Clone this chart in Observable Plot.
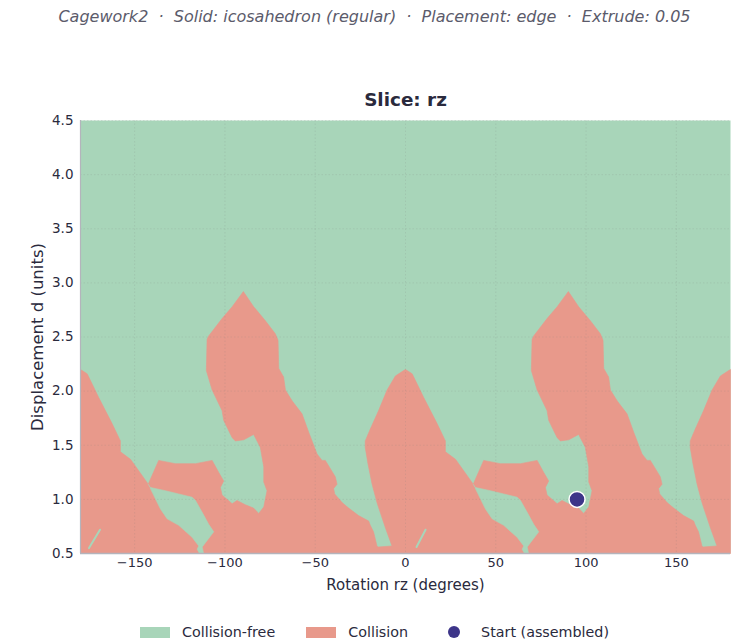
<!DOCTYPE html>
<html>
<head>
<meta charset="utf-8">
<script src="https://cdn.jsdelivr.net/npm/d3@7"></script>
<script src="https://cdn.jsdelivr.net/npm/@observablehq/plot@0.6"></script>
<style>
  html, body { margin: 0; padding: 0; background: #fff; overflow: hidden; }
  body { width: 749px; font-family: "DejaVu Sans", sans-serif; color: #2a2a3d; }
  #sub { height: 34px; line-height: 34px; text-align: center; font-style: italic; font-size: 16px; color: #5b5b6b; white-space: pre; }
  #chart svg { display: block; }
  #legend { display: flex; justify-content: center; align-items: center; margin-top: 22px; height: 20px; font-size: 14.3px; color: #2a2a3d; }
  .item { display: flex; align-items: center; margin-right: 31px; }
  .item:last-child { margin-right: 0; }
  .sw { width: 30px; height: 11px; margin-right: 12px; }
  .dotbox { width: 30px; height: 14px; margin-right: 12px; display: flex; justify-content: center; align-items: center; }
  .dot { width: 12px; height: 12px; border-radius: 50%; background: #3d3589; }
</style>
</head>
<body>
<div id="sub">Cagework2  ·  Solid: icosahedron (regular)  ·  Placement: edge  ·  Extrude: 0.05</div>
<div id="chart"></div>
<div id="legend"></div>
<script>
// ---------- data ----------
const xTicks = [-150, -100, -50, 0, 50, 100, 150];
const yTicks = [0.5, 1.0, 1.5, 2.0, 2.5, 3.0, 3.5, 4.0, 4.5];
const legendLabels = ["Collision-free", "Collision", "Start (assembled)"];

// Lower boundary of the collision-free region, rz in [-180, 0] : [rz, d]
const boundaryLeft = [
  [-180,2.20],[-176.3,2.16],[-169.9,1.94],[-162.5,1.70],[-157.9,1.54],[-157.9,1.44],[-152.3,1.37],[-145.0,1.20],[-142.5,1.14],
  [-136.7,1.36],[-127.4,1.33],[-116.3,1.33],[-107.1,1.36],[-103.5,1.25],[-100.7,1.17],[-102.5,1.11],[-101.6,1.04],[-96.0,0.96],
  [-93.3,0.99],[-88.7,0.95],[-84.2,0.92],[-81.3,0.87],[-78.5,0.93],[-76.7,1.08],[-78.5,1.16],[-78.5,1.30],[-80.4,1.48],[-84.1,1.60],
  [-89.6,1.55],[-94.2,1.54],[-96.0,1.57],[-100.7,1.73],[-101.6,1.82],[-107.1,2.01],[-110.3,2.19],[-109.9,2.48],[-109.0,2.51],
  [-101.6,2.67],[-96.0,2.78],[-89.8,2.92],[-84.1,2.78],[-77.6,2.65],[-72.1,2.53],[-70.6,2.47],[-70.2,2.21],[-67.5,2.13],[-66.5,2.01],
  [-62.8,1.91],[-57.3,1.79],[-53.6,1.62],[-49.0,1.42],[-46.2,1.36],[-44.4,1.36],[-38.9,1.21],[-37.9,1.14],[-39.8,1.10],[-39.2,1.05],
  [-35.1,0.97],[-31.5,0.92],[-26.0,0.85],[-20.4,0.80],[-19.5,0.76],[-17.7,0.70],[-15.8,0.57],[-15.2,0.56],[-7.5,0.57],[-11.2,0.74],
  [-15.8,0.97],[-18.5,1.14],[-20.8,1.33],[-22.3,1.48],[-22.3,1.54],[-19.5,1.65],[-14.9,1.82],[-10.2,2.01],[-5.6,2.14],[-1.0,2.19]
];
// Lower boundary of the collision-free region, rz in [0, 180] : [rz, d]
const boundaryRight = [
  [0,2.20],[3.7,2.16],[10.1,1.94],[17.5,1.70],[22.1,1.54],[22.1,1.44],[27.7,1.37],[35.0,1.20],[37.5,1.14],
  [43.3,1.36],[52.6,1.33],[63.7,1.33],[72.9,1.36],[76.5,1.25],[79.3,1.17],[77.5,1.11],[78.4,1.04],[84.0,0.96],
  [86.7,0.99],[91.3,0.95],[95.8,0.92],[98.7,0.87],[101.5,0.93],[103.3,1.08],[101.5,1.16],[101.5,1.30],[99.6,1.48],[95.9,1.60],
  [90.4,1.55],[85.8,1.54],[84.0,1.57],[79.3,1.73],[78.4,1.82],[72.9,2.01],[69.7,2.19],[70.1,2.48],[71.0,2.51],
  [78.4,2.67],[84.0,2.78],[90.2,2.92],[95.9,2.78],[102.4,2.65],[107.9,2.53],[109.4,2.47],[109.8,2.21],[112.5,2.13],[113.5,2.01],
  [117.2,1.91],[122.7,1.79],[126.4,1.62],[131.0,1.42],[133.8,1.36],[135.6,1.36],[141.1,1.21],[142.1,1.14],[140.2,1.10],[140.8,1.05],
  [144.9,0.97],[148.5,0.92],[154.0,0.85],[159.6,0.80],[160.5,0.76],[162.3,0.70],[164.2,0.57],[164.8,0.56],[172.5,0.57],[168.8,0.74],
  [164.2,0.97],[161.5,1.14],[159.2,1.33],[157.7,1.48],[157.7,1.54],[160.5,1.65],[165.1,1.82],[169.8,2.01],[174.4,2.14],[179.0,2.19],[180,2.20]
];
// Bottom corners closing the collision polygon
const bottomCorners = [[180,0.5],[-180,0.5]];

// Collision-free wedge pockets reaching the bottom edge
const pocketLeft = [
  [-142.5,1.14],[-141.3,1.11],[-133.0,1.08],[-125.6,1.05],[-118.2,1.02],[-116.3,0.99],[-112.6,0.88],[-109.0,0.77],[-106.2,0.70],
  [-110.8,0.60],[-112.6,0.56],[-111.8,0.50],[-114.1,0.50],[-115.4,0.54],[-114.5,0.57],[-118.2,0.65],[-125.6,0.76],[-132.0,0.82],
  [-135.7,0.91],[-141.3,1.10]
];
const pocketRight = [
  [37.5,1.14],[38.7,1.11],[47.0,1.08],[54.4,1.05],[61.8,1.02],[63.7,0.99],[67.4,0.88],[71.0,0.77],[73.8,0.70],
  [69.2,0.60],[67.4,0.56],[68.2,0.50],[65.9,0.50],[64.6,0.54],[65.5,0.57],[61.8,0.65],[54.4,0.76],[48.0,0.82],
  [44.3,0.91],[38.7,1.10]
];
// Thin collision-free slivers near the bottom
const sliverLeft = [[-169.2,0.72],[-175.3,0.55]];
const sliverRight = [[11.1,0.72],[6.1,0.56]];

// Start (assembled) configuration
const startRz = [95];
const startD = [1.0];

// ---------- styles ----------
const GREEN = "#a8d5b9";
const SALMON = "#e8998b";
const START = "#3d3589";
const TEXT = "#2a2a3d";

// ---------- build tables ----------
const toRows = (pts, id) => pts.map(([rz, d]) => ({rz, d, id}));
const collision = toRows([...boundaryLeft, ...boundaryRight, ...bottomCorners], "collision");
const pockets = [...toRows(pocketLeft, "pl"), ...toRows(pocketRight, "pr")];
const slivers = [...toRows(sliverLeft, "sl"), ...toRows(sliverRight, "sr")];
const start = startRz.map((rz, i) => ({rz, d: startD[i]}));

const chart = Plot.plot({
  width: 749,
  height: 566,
  marginTop: 86,
  marginBottom: 47,
  marginLeft: 80,
  marginRight: 19,
  style: {fontFamily: "DejaVu Sans, sans-serif", fontSize: "13px", color: TEXT, background: "white"},
  x: {domain: [-180, 180], label: null},
  y: {domain: [0.5, 4.5], label: null},
  marks: [
    Plot.frame({fill: GREEN, stroke: null}),
    Plot.line(collision, {x: "rz", y: "d", z: "id", fill: SALMON, stroke: SALMON, strokeWidth: 0.6, curve: "linear"}),
    Plot.line(pockets, {x: "rz", y: "d", z: "id", fill: GREEN, stroke: GREEN, strokeWidth: 0.6, curve: "linear"}),
    Plot.line(slivers, {x: "rz", y: "d", z: "id", stroke: GREEN, strokeWidth: 2, curve: "linear"}),
    Plot.gridX(xTicks, {stroke: "#7a7a7a", strokeOpacity: 0.16, strokeDasharray: "1.5,2"}),
    Plot.gridY(yTicks, {stroke: "#7a7a7a", strokeOpacity: 0.16, strokeDasharray: "1.5,2"}),
    Plot.ruleX([-180], {stroke: "#b4b4bc", strokeWidth: 1.2}),
    Plot.ruleY([0.5], {stroke: "#b4b4bc", strokeWidth: 1.5}),
    Plot.axisX(xTicks, {tickSize: 0, tickPadding: 4, tickFormat: d3.format(""), label: null, fill: TEXT, fontSize: 13}),
    Plot.axisY(yTicks, {tickSize: 0, tickPadding: 7, tickFormat: d3.format(".1f"), label: null, fill: TEXT, fontSize: 13.5}),
    Plot.dot(start, {x: "rz", y: "d", r: 8, fill: START, stroke: "white", strokeWidth: 1.5}),
    Plot.text(["Slice: rz"], {text: d => d, frameAnchor: "top", lineAnchor: "middle", dy: -20, fontWeight: "bold", fontSize: 18.4, fill: TEXT}),
    Plot.text(["Rotation rz (degrees)"], {text: d => d, frameAnchor: "bottom", lineAnchor: "middle", dy: 32, fontSize: 15, fill: TEXT}),
    Plot.text(["Displacement d (units)"], {text: d => d, frameAnchor: "left", textAnchor: "middle", lineAnchor: "middle", dx: -43, rotate: -90, fontSize: 16.5, fill: TEXT})
  ]
});
document.getElementById("chart").append(chart);

// ---------- legend ----------
const legend = document.getElementById("legend");
const swatches = [
  {label: legendLabels[0], kind: "rect", color: GREEN},
  {label: legendLabels[1], kind: "rect", color: SALMON},
  {label: legendLabels[2], kind: "dot", color: START}
];
for (const s of swatches) {
  const item = document.createElement("div");
  item.className = "item";
  if (s.kind === "rect") {
    const sw = document.createElement("span");
    sw.className = "sw";
    sw.style.background = s.color;
    item.append(sw);
  } else {
    const box = document.createElement("span");
    box.className = "dotbox";
    const dot = document.createElement("span");
    dot.className = "dot";
    dot.style.background = s.color;
    box.append(dot);
    item.append(box);
  }
  const t = document.createElement("span");
  t.textContent = s.label;
  item.append(t);
  legend.append(item);
}
</script>
</body>
</html>
